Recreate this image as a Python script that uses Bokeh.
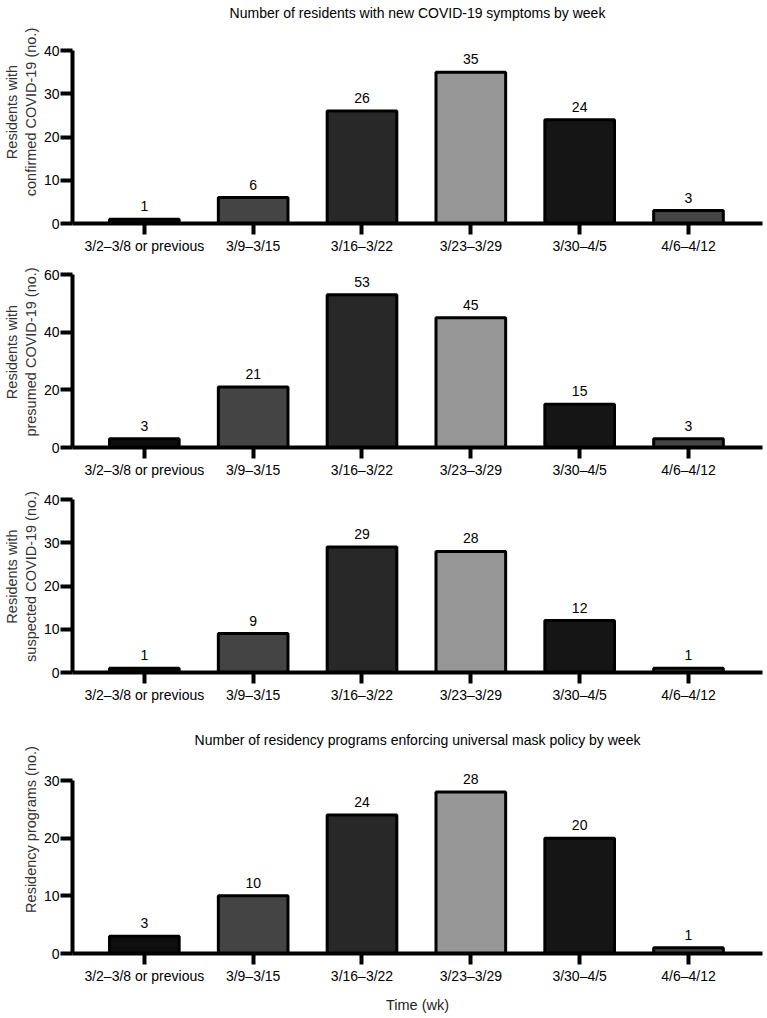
from bokeh.plotting import figure
from bokeh.layouts import column
from bokeh.models import ColumnDataSource, FixedTicker, Range1d, LabelSet, Label
from bokeh.core.properties import value
from bokeh.embed import file_html
from bokeh.resources import INLINE

# ---------------- data ----------------
weeks = ["3/2\u20133/8 or previous", "3/9\u20133/15", "3/16\u20133/22",
         "3/23\u20133/29", "3/30\u20134/5", "4/6\u20134/12"]
confirmed = [1, 6, 26, 35, 24, 3]
presumed = [3, 21, 53, 45, 15, 3]
suspected = [1, 9, 29, 28, 12, 1]
mask_programs = [3, 10, 24, 28, 20, 1]

confirmed_ticks = [0, 10, 20, 30, 40]
presumed_ticks = [0, 20, 40, 60]
suspected_ticks = [0, 10, 20, 30, 40]
mask_ticks = [0, 10, 20, 30]

title_symptoms = "Number of residents with new COVID-19 symptoms by week"
title_masks = "Number of residency programs enforcing universal mask policy by week"
ylabel_confirmed = "Residents with\nconfirmed COVID-19 (no.)"
ylabel_presumed = "Residents with\npresumed COVID-19 (no.)"
ylabel_suspected = "Residents with\nsuspected COVID-19 (no.)"
ylabel_mask = "Residency programs (no.)"
xlabel_time = "Time (wk)"

# ---------------- style / layout ----------------
bar_colors = ["#0e0e0e", "#444444", "#282828", "#969696", "#151515", "#444444"]
FONT = "Liberation Sans, Arial, Helvetica, sans-serif"
AXIS_PX = 173          # pixel height of the tick span (0 .. top tick)
X_START, X_END = -0.66, 5.68


def make_panel(values, ticks, ylabel, frame_h, title=None, title_px=0,
               xlabel=None, border_bottom=0):
    y_end = ticks[-1] * frame_h / AXIS_PX
    p = figure(frame_width=690, frame_height=frame_h,
               x_range=Range1d(X_START, X_END), y_range=Range1d(0, y_end),
               output_backend="svg", toolbar_location=None,
               min_border_left=72, min_border_right=5,
               min_border_top=0, min_border_bottom=border_bottom)
    p.outline_line_color = None
    p.xgrid.grid_line_color = None
    p.ygrid.grid_line_color = None
    p.background_fill_color = "white"
    p.border_fill_color = "white"

    if title is not None:
        ty = ticks[-1] * title_px / AXIS_PX
        p.add_layout(Label(x=(X_START + X_END) / 2, y=ty, text=title,
                           text_align="center", text_baseline="middle",
                           text_font=FONT, text_font_size="14px",
                           text_color="black"))

    src = ColumnDataSource(dict(
        x=list(range(len(weeks))),
        v=values,
        lab=[str(v) for v in values],
        c=bar_colors,
    ))
    p.vbar(x="x", top="v", bottom=0, width=0.64, source=src,
           fill_color="c", line_color="black", line_width=3)
    p.add_layout(LabelSet(x="x", y="v", text="lab", source=src, y_offset=8,
                          text_align="center", text_baseline="bottom",
                          text_font=value(FONT), text_font_size=value("14px"),
                          text_color=value("black")))

    xa = p.xaxis[0]
    xa.ticker = FixedTicker(ticks=list(range(len(weeks))))
    xa.major_label_overrides = {i: w for i, w in enumerate(weeks)}
    xa.axis_line_width = 4
    xa.axis_line_color = "black"
    xa.major_tick_line_width = 4
    xa.major_tick_line_color = "black"
    xa.major_tick_out = 11
    xa.major_tick_in = 0
    xa.minor_tick_line_color = None
    xa.major_label_standoff = 3
    xa.major_label_text_font = FONT
    xa.major_label_text_font_size = "14px"
    xa.major_label_text_color = "black"
    if xlabel is not None:
        xa.axis_label = xlabel
        xa.axis_label_text_font = FONT
        xa.axis_label_text_font_size = "14.5px"
        xa.axis_label_text_font_style = "normal"
        xa.axis_label_text_color = "#222222"
        xa.axis_label_standoff = 10

    ya = p.yaxis[0]
    ya.ticker = FixedTicker(ticks=ticks)
    ya.bounds = (ticks[0], ticks[-1])
    ya.axis_line_width = 4
    ya.axis_line_color = "black"
    ya.major_tick_line_width = 4
    ya.major_tick_line_color = "black"
    ya.major_tick_out = 12
    ya.major_tick_in = 0
    ya.minor_tick_line_color = None
    ya.major_label_standoff = 1
    ya.major_label_text_font = FONT
    ya.major_label_text_font_size = "14px"
    ya.major_label_text_color = "black"
    ya.axis_label = ylabel
    ya.axis_label_text_font = FONT
    ya.axis_label_text_font_size = "14.5px"
    ya.axis_label_text_font_style = "normal"
    ya.axis_label_text_color = "#333333"
    ya.axis_label_standoff = 2
    return p


p1 = make_panel(confirmed, confirmed_ticks, ylabel_confirmed, frame_h=223,
                title=title_symptoms, title_px=211)
p2 = make_panel(presumed, presumed_ticks, ylabel_presumed, frame_h=191)
p3 = make_panel(suspected, suspected_ticks, ylabel_suspected, frame_h=192)
p4 = make_panel(mask_programs, mask_ticks, ylabel_mask, frame_h=248,
                title=title_masks, title_px=214, xlabel=xlabel_time)

layout = column(p1, p2, p3, p4, spacing=0)
open("out.html", "w").write(file_html(layout, INLINE))
